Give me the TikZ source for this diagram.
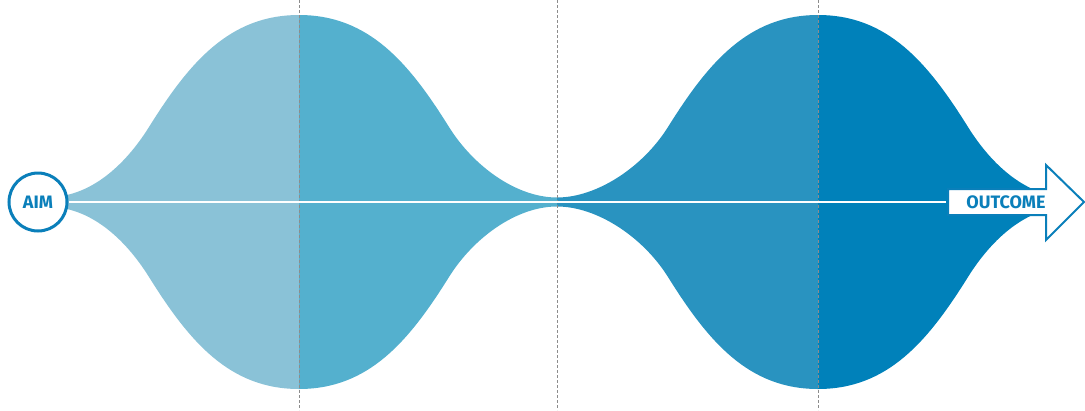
\documentclass[tikz,border=0pt]{standalone}
\usepackage{fontspec}
\setsansfont{Fira Sans}
\definecolor{segA}{HTML}{8AC2D7}
\definecolor{segB}{HTML}{54B0CE}
\definecolor{segC}{HTML}{2993C0}
\definecolor{segD}{HTML}{0081BA}
\definecolor{ink}{HTML}{0A7FBA}
\definecolor{guide}{HTML}{8C8C8C}
\newcommand\halflobe[5]{%
  \begin{scope}[shift={(#1,0)}, xscale=#2]
    \fill[#5] (0,15) .. controls (70,15) and (110,63) .. (150,127)
      .. controls (175,167) and ({#3-40},{202-#4}) .. (#3,{202-#4})
      -- (#3,{202+#4})
      .. controls ({#3-40},{202+#4}) and (175,237) .. (150,277)
      .. controls (110,341) and (70,389) .. (0,389) -- cycle;
  \end{scope}}
\begin{document}
\begin{tikzpicture}[x=1pt,y=-1pt,
  guideline/.style={guide, line width=0.9pt, dash pattern=on 2.5pt off 2.5pt},
  axisline/.style={white, line width=2pt},
  aimnode/.style={circle, draw=ink, line width=3pt, fill=white, minimum size=58pt, inner sep=0pt,
    text=ink, font=\sffamily\bfseries\fontsize{18}{18}\selectfont},
  outtext/.style={text=ink, font=\sffamily\bfseries\fontsize{18}{18}\selectfont, inner sep=0pt},
  arrowbox/.style={draw=ink, line width=2pt, fill=white, line join=miter}]
\useasboundingbox (0,0) rectangle (1085,410);
\halflobe{299}{-1}{250}{5}{segA}
\halflobe{299}{1}{258}{4.5}{segB}
\halflobe{818}{-1}{261}{4.5}{segC}
\halflobe{818}{1}{250}{5}{segD}
\foreach \gx in {299,557,818} \draw[guideline] (\gx,0) -- (\gx,410);
\draw[arrowbox] (948,189) -- (1046,189) -- (1046,165) -- (1084,202) -- (1046,240) -- (1046,215) -- (948,215) -- cycle;
\node[outtext] (outcome) at (1006,202) {OUTCOME};
\coordinate (outtail) at (946,202);
\node[aimnode] (aim) at (38,202) {AIM};
\draw[axisline] (aim.east) -- (outtail);
\end{tikzpicture}
\end{document}
